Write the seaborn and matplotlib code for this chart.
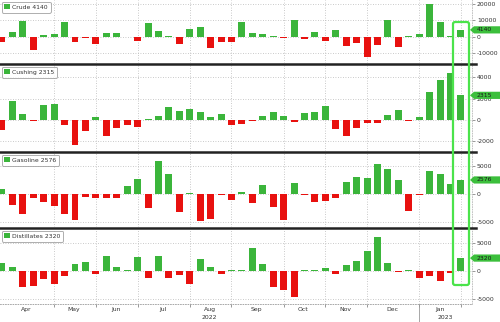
import matplotlib
matplotlib.use("Agg")
import matplotlib.pyplot as plt
import seaborn as sns
import pandas as pd
import numpy as np
from matplotlib.patches import Patch, Polygon, FancyBboxPatch
from matplotlib.lines import Line2D
from matplotlib.transforms import IdentityTransform, blended_transform_factory

# ---------------- data ----------------
crude = [-3200, 2600, 9700, -8100, 800, 1400, 8900, -3200, -600, -4600,
         2200, 2000, -400, -2600, 8500, 3400, 300, -4400, 4800, 5700,
         -7100, -3400, -3400, 9100, 2400, 1400, 300, -1000, 10100, -1600,
         2600, -2800, 4000, -5500, -3600, -12500, -5100, 10100, -6100, 400,
         1800, 19800, 8700, 400, 4140]
cushing = [-940, 1780, 530, -125, 1400, 1500, -500, -2340, -1000, 280,
           -1500, -750, -500, -690, 125, 400, 1250, 840, 1000, 780,
           250, 530, -440, -400, -100, 375, 750, 375, -220, 650,
           750, 1340, -810, -1530, -750, -310, -310, 500, 940, -125,
           310, 2600, 3750, 4375, 2315]
gasoline = [960, -1920, -3540, -720, -1440, -2100, -3480, -4680, -420, -600,
            -600, -600, 1560, 2820, -2400, 5940, 3600, -3180, 180, -4860,
            -4440, -100, -1020, 420, -1620, 1620, -2340, -4560, 2100, -80,
            -1320, -1140, -720, 2280, 3120, 2880, 5460, 4620, 2640, -2940,
            -180, 4260, 3600, 1860, 2576]
distillates = [1440, 780, -2820, -2640, -1380, -2280, -840, 1200, 1680, -480,
               2640, 780, 100, 2580, -1200, 2700, -1200, -660, -2340, 2160,
               780, -540, 100, 100, 4200, 1200, -2820, -3420, -4740, 100,
               180, 480, -480, 1140, 1740, 3540, 6180, 1380, -180, 240,
               -1320, -960, -1800, -360, 2320]

series_names = ["Crude", "Cushing", "Gasoline", "Distillates"]
series_values = [crude, cushing, gasoline, distillates]
latest_labels = ["4140", "2315", "2576", "2320"]

y_ticks = [[-10000, 0, 10000, 20000], [-2000, 0, 2000, 4000],
           [-5000, 0, 5000], [-5000, 0, 5000]]
y_limits = [(-15940, 22240), (-2911, 5164), (-5871, 7415), (-5925, 7540)]

month_labels = ["Apr", "May", "Jun", "Jul", "Aug", "Sep", "Oct", "Nov", "Dec", "Jan"]
month_label_pos = [2.37, 6.9, 10.9, 15.4, 19.9, 24.4, 28.9, 32.9, 37.4, 42.0]
month_grid_pos = [5, 9, 13, 18, 22, 27, 31, 35, 40, 44]
year_labels = ["2022", "2023"]
year_label_pos = [19.9, 42.5]
year_sep_pos = 40

# ---------------- style ----------------
GREEN = "#3bb53b"
RED = "#e8110f"
TAG_GREEN = "#3cbf3c"
HILITE = "#4be34b"
GRID = "#b8b8b8"
TXT = "#333333"
FS = 4.4

plt.rcParams["font.family"] = ["DejaVu Sans"]

W, H = 500, 322
fig = plt.figure(figsize=(W / 100, H / 100), dpi=100)
fig.patch.set_facecolor("white")

panels_px = [(0, 63), (65, 151), (153, 227), (229, 304)]
right_px = 472

axes = []
for k, (top, bot) in enumerate(panels_px):
    ax = fig.add_axes([0, 1 - bot / H, right_px / W, (bot - top) / H])
    axes.append(ax)
    vals = series_values[k]
    df = pd.DataFrame({"x": np.arange(len(vals)), "v": vals,
                       "s": ["pos" if v >= 0 else "neg" for v in vals]})
    sns.barplot(data=df, x="x", y="v", hue="s", palette={"pos": GREEN, "neg": RED},
                native_scale=True, width=0.67, legend=False, ax=ax,
                linewidth=0, saturation=1, zorder=3)
    ax.set_xlim(-0.19, 45.06)
    ax.set_ylim(*y_limits[k])
    ax.set_xlabel("")
    ax.set_ylabel("")
    # grid
    ax.set_yticks(y_ticks[k])
    ax.set_yticklabels([f"{t:d}" for t in y_ticks[k]])
    ax.yaxis.tick_right()
    for t in y_ticks[k]:
        ax.axhline(t, color=GRID, lw=0.6, ls=(0, (1, 2)), zorder=1)
    for g in month_grid_pos:
        ax.axvline(g, color=GRID, lw=0.6, ls=(0, (1, 2)), zorder=1)
    ax.tick_params(axis="y", which="both", right=True, left=False, length=2,
                   width=0.6, color="#888888", labelsize=FS, labelcolor=TXT, pad=1.5)
    for s in ["top", "left", "bottom"]:
        ax.spines[s].set_visible(False)
    ax.spines["right"].set_color(GRID)
    ax.spines["right"].set_linewidth(0.6)
    ax.spines["right"].set_linestyle((0, (1, 2)))
    if k < 3:
        ax.tick_params(axis="x", which="both", bottom=False, labelbottom=False)
    else:
        ax.spines["bottom"].set_visible(True)
        ax.spines["bottom"].set_color("#999999")
        ax.spines["bottom"].set_linewidth(0.6)
        ax.spines["bottom"].set_linestyle((0, (1, 2)))
        ax.set_xticks(month_grid_pos)
        ax.set_xticklabels([])
        ax.set_xticks(month_label_pos, minor=True)
        ax.set_xticklabels(month_labels, minor=True)
        ax.tick_params(axis="x", which="major", length=2, width=0.6, color="#888888")
        ax.tick_params(axis="x", which="minor", length=0, labelsize=FS,
                       labelcolor=TXT, pad=2.5)
        trans = blended_transform_factory(ax.transData, ax.transAxes)
        ah = bot - top
        for lab, pos in zip(year_labels, year_label_pos):
            ax.text(pos, -13.5 / ah, lab, transform=trans, ha="center", va="center",
                    fontsize=FS, color=TXT)
        ax.plot([year_sep_pos, year_sep_pos], [0, -18 / ah], transform=trans,
                color="#999999", lw=0.6, clip_on=False)

    # legend box
    leg = ax.legend(handles=[Patch(facecolor=GREEN, edgecolor="none")],
                    labels=[f"{series_names[k]} {latest_labels[k]}"],
                    loc="upper left", bbox_to_anchor=(0, 1), borderaxespad=0.25,
                    fontsize=FS, frameon=True, fancybox=True, handlelength=0.9,
                    handleheight=0.9, handletextpad=0.4, borderpad=0.45)
    leg.get_frame().set_edgecolor("#999999")
    leg.get_frame().set_linewidth(0.7)
    for t in leg.get_texts():
        t.set_color(TXT)
    leg.set_zorder(5)

fig.canvas.draw()

# value tags on the right
for k, ax in enumerate(axes):
    v = series_values[k][-1]
    ypix = ax.transData.transform((0, v))[1]
    h = 3.6
    pts = [(470, ypix), (474, ypix + h), (W + 2, ypix + h), (W + 2, ypix - h), (474, ypix - h)]
    fig.add_artist(Polygon(pts, closed=True, transform=IdentityTransform(),
                           facecolor=TAG_GREEN, edgecolor="none", zorder=6))
    fig.text(477 / W, ypix / H, latest_labels[k], ha="left", va="center",
             fontsize=FS, color="#1a1a1a", zorder=7)

# separator lines between panels
for ysep in [64, 152, 228]:
    fig.add_artist(Line2D([0, 476 / W], [1 - ysep / H] * 2, transform=fig.transFigure,
                          color="#222222", lw=1.8, zorder=8))

# highlight box around the latest week
box = FancyBboxPatch((453, H - 285), 16, 263, boxstyle="round,pad=0,rounding_size=2",
                     transform=IdentityTransform(), fill=False, edgecolor=HILITE,
                     lw=1.6, zorder=9)
fig.add_artist(box)

fig.savefig("out.png", dpi=100, facecolor="white")
